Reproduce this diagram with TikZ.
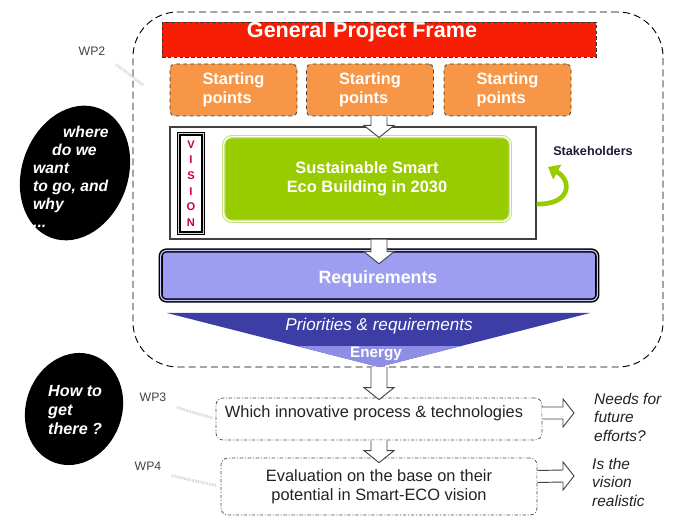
\documentclass[tikz,border=0pt]{standalone}
\usepackage{fontspec}
\setmainfont{Liberation Sans}
\usetikzlibrary{arrows.meta,calc,positioning}
\definecolor{FrameRed}{HTML}{F81E05}
\definecolor{StartOrange}{HTML}{F79646}
\definecolor{EcoGreen}{HTML}{99CC00}
\definecolor{EcoEdge}{HTML}{C4E37A}
\definecolor{ReqBlue}{HTML}{9D9DF2}
\definecolor{ReqEdge}{HTML}{C9C9FF}
\definecolor{FunnelDark}{HTML}{3D3DA6}
\definecolor{FunnelLight}{HTML}{8E8EE6}
\definecolor{VisionRed}{HTML}{CC0033}
\definecolor{Ink}{HTML}{222222}
\definecolor{Navy}{HTML}{1C1C3A}

% hollow block arrows, #1 = start of shaft, #2 = tip
\newcommand{\blockdown}[2]{%
  \draw[blockarrow] ($(#1)+(-8,0)$) -- ($(#2)+(-8,-12)$) -- ($(#2)+(-15,-12)$)
    -- (#2) -- ($(#2)+(15,-12)$) -- ($(#2)+(8,-12)$) -- ($(#1)+(8,0)$);}
\newcommand{\blockright}[2]{%
  \draw[blockarrow] ($(#1)+(0,-6)$) -- ($(#2)+(-11,-6)$) -- ($(#2)+(-11,-14)$)
    -- (#2) -- ($(#2)+(-11,14)$) -- ($(#2)+(-11,6)$) -- ($(#1)+(0,6)$);}

\begin{document}
\begin{tikzpicture}[x=0.03cm,y=-0.03cm,
    startbox/.style={draw=black!75,dashed,fill=StartOrange,rounded corners=4pt,line width=0.7pt,minimum width=3.81cm,minimum height=1.56cm,text=white,align=left,font=\fontsize{14}{16.2}\selectfont\bfseries},
    wpbox/.style={draw=black!70,line width=0.6pt,dash pattern=on 3pt off 1.5pt on 0.8pt off 1.5pt,rounded corners=6pt,text=Ink,align=center,font=\fontsize{14}{16.2}\selectfont},
    wplabel/.style={text=Ink!85,font=\fontsize{10.5}{12}\selectfont},
    wpline/.style={draw=black!45,line width=0.35pt,double=white,double distance=1.4pt,densely dotted},
    bubbletext/.style={text=white,align=left,inner sep=0pt,font=\fontsize{13.4}{15.4}\selectfont\bfseries\itshape},
    sidenote/.style={text=Ink,align=left,inner sep=0pt,font=\fontsize{13.2}{15.8}\selectfont\itshape},
    blockarrow/.style={draw=Ink!85,fill=white,line width=0.8pt,line join=miter}]
    \useasboundingbox (0,0) rectangle (675,516);

    % dashed frame and its contents
    \node[draw=black,line width=0.8pt,dash pattern=on 6pt off 3.5pt,rounded corners=1.35cm,minimum width=15.9cm,minimum height=10.65cm] (frame) at (398,189.5) {};
    \node[draw=black!80,densely dashed,fill=FrameRed,line width=0.6pt,minimum width=13.02cm,minimum height=1.05cm] (title) at (379,39.5) {};
    \node[text=white,font=\fontsize{18.4}{20}\selectfont\bfseries] (titletext) at (362,32) {General Project Frame};

    \node[startbox] (sp1) at (233.5,90) {Starting\\points};
    \node[startbox] (sp2) at (370,90) {Starting\\points};
    \node[startbox] (sp3) at (507.5,90) {Starting\\points};

    \node[draw=black!75,line width=0.9pt,fill=white,minimum width=10.98cm,minimum height=3.36cm] (vision) at (353,183) {};
    \node[draw=black,line width=1pt,double=black!15,double distance=1.2pt,fill=white,minimum width=0.74cm,minimum height=2.99cm,inner sep=0pt,text=VisionRed,align=center,font=\fontsize{9.5}{13.3}\selectfont\bfseries] (strip) at (191,183.5) {V\\I\\S\\I\\O\\N};
    \node[draw=EcoEdge,line width=0.9pt,double=white,double distance=1pt,fill=EcoGreen,rounded corners=7pt,minimum width=8.6cm,minimum height=2.54cm,text=white,align=center,font=\fontsize{14}{16.2}\selectfont\bfseries] (eco) at (367,179) {Sustainable Smart\\Eco Building in 2030};

    \node[text=Navy,font=\fontsize{10.8}{12}\selectfont\bfseries] (stake) at (593,151) {Stakeholders};
    \coordinate (stakeend) at (548,167);
    \draw[EcoGreen,line width=4pt,-{Triangle[length=9pt,width=14pt]}] ([yshift=-0.63cm]vision.east) .. controls +(35,1) and (572,180) .. (stakeend);

    \node[draw=black,line width=1.3pt,double=ReqEdge,double distance=1pt,fill=ReqBlue,rounded corners=5pt,minimum width=13.1cm,minimum height=1.5cm] (reqs) at (379,275.5) {};
    \node[text=white,font=\fontsize{15.2}{17}\selectfont\bfseries] (reqtext) at (378,279) {Requirements};

    % funnel
    \coordinate (apex) at (379,367);
    \fill[FunnelDark] (167,313) -- (590,313) -- (apex) -- cycle;
    \fill[FunnelLight] (297,346) -- (461,346) -- (apex) -- cycle;
    \node[text=white,font=\fontsize{14.6}{16}\selectfont\itshape] (prio) at (379,326) {Priorities \& requirements};
    \node[text=white,font=\fontsize{13}{15}\selectfont\bfseries] (energy) at (376,354) {Energy};

    % questions
    \fill[black,rotate around={-20:(75,173)}] (75,173) ellipse [x radius=53,y radius=69];
    \node[bubbletext,anchor=north west] (where) at (33,126) {\hspace*{0.9cm}where\\\hspace*{0.57cm}do we\\want\\to go, and\\why\\...};
    \fill[black,rotate around={-20:(74,409)}] (74,409) ellipse [x radius=48,y radius=57];
    \node[bubbletext,anchor=north west,font=\fontsize{13.8}{16.2}\selectfont\bfseries\itshape] (how) at (48,385) {How to\\get\\there ?};

    % work packages
    \node[wplabel] (wp2) at (92,51) {WP2};
    \node[wplabel] (wp3) at (153,397) {WP3};
    \node[wplabel] (wp4) at (148,466) {WP4};

    \node[wpbox,minimum width=9.78cm,minimum height=1.26cm] (wp3box) at (379,419) {};
    \node[wpbox,draw=none] (wp3text) at (374,413) {Which innovative process \& technologies};
    \node[wpbox,minimum width=9.48cm,minimum height=1.71cm] (wp4box) at (379,486.5) {Evaluation on the base on their\\potential in Smart-ECO vision};

    \coordinate (wp2end) at (143,85);
    \draw[wpline,shorten <=0.25cm] (wp2.south east) -- (wp2end);
    \draw[wpline,shorten <=0.2cm,shorten >=0.1cm] (wp3.south east) -- (wp3box.west);
    \draw[wpline,shorten <=0.2cm,shorten >=0.15cm] (wp4.south east) -- (wp4box.west);

    \node[sidenote,anchor=north west] (needs) at (594,393) {Needs for\\future\\efforts?};
    \node[sidenote,anchor=north west] (real) at (592,458) {Is the\\vision\\realistic};

    % block arrows
    \coordinate (a1s) at (title.south |- sp2.south);
    \coordinate (a1t) at ($(a1s |- vision.north)+(0,11)$);
    \blockdown{a1s}{a1t}
    \coordinate (a2s) at (a1s |- vision.south);
    \coordinate (a2t) at ($(a1s |- reqs.north)+(0,14)$);
    \blockdown{a2s}{a2t}
    \coordinate (a3t) at ($(wp3box.north)+(0,2)$);
    \blockdown{apex}{a3t}
    \coordinate (a4t) at ($(wp4box.north)+(0,5)$);
    \blockdown{wp3box.south}{a4t}
    \coordinate (r1s) at ($(wp3box.east)+(0,-6)$);
    \coordinate (r1t) at (574,413);
    \blockright{r1s}{r1t}
    \coordinate (r2s) at ($(wp4box.east)+(0,-10)$);
    \coordinate (r2t) at (574,476);
    \blockright{r2s}{r2t}
  \end{tikzpicture}
\end{document}
